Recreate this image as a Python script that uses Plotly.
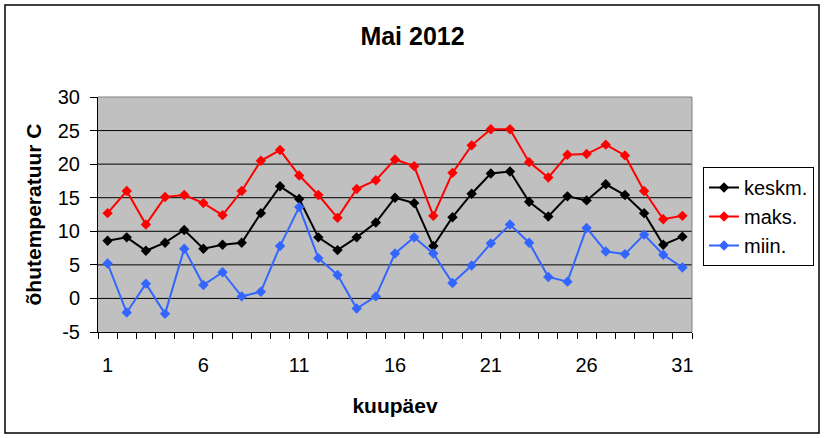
import plotly.graph_objects as go

# kuupäevad ja temperatuurid (loetud pildilt)
paevad = [1, 2, 3, 4, 5, 6, 7, 8, 9, 10, 11, 12, 13, 14, 15, 16,
          17, 18, 19, 20, 21, 22, 23, 24, 25, 26, 27, 28, 29, 30, 31]
keskm = [8.6, 9.1, 7.1, 8.3, 10.2, 7.4, 8.0, 8.3, 12.7, 16.7, 14.8, 9.1, 7.2, 9.1, 11.3, 15.0,
         14.2, 7.8, 12.1, 15.6, 18.6, 18.9, 14.4, 12.2, 15.2, 14.6, 17.0, 15.4, 12.7, 8.0, 9.2]
maks = [12.7, 16.0, 11.0, 15.1, 15.4, 14.2, 12.4, 16.0, 20.5, 22.1, 18.3, 15.4, 12.0, 16.3, 17.6, 20.7,
        19.7, 12.3, 18.7, 22.8, 25.2, 25.2, 20.3, 18.0, 21.4, 21.5, 22.9, 21.3, 16.0, 11.8, 12.3]
miin = [5.2, -2.1, 2.2, -2.3, 7.4, 2.0, 3.9, 0.3, 1.0, 7.8, 13.6, 6.0, 3.5, -1.5, 0.3, 6.7,
        9.1, 6.7, 2.3, 4.9, 8.2, 11.0, 8.3, 3.2, 2.5, 10.5, 7.0, 6.6, 9.5, 6.5, 4.6]

x_sildid = [1, 6, 11, 16, 21, 26, 31]
y_sildid = [-5, 0, 5, 10, 15, 20, 25, 30]

W, H = 825, 438
L, R, T, B = 98, 692, 97, 332  # joonise ala pikslites

def px_x(p):
    return (p - L) / (R - L)

def px_y(p):
    return (B - p) / (B - T)

FONT = "Liberation Sans, Arial, sans-serif"

fig = go.Figure()
for nimi, vals, col in [("keskm.", keskm, "black"),
                        ("maks.", maks, "#FF0000"),
                        ("miin.", miin, "#3366FF")]:
    fig.add_trace(go.Scatter(x=paevad, y=vals, name=nimi, mode="lines+markers",
                             line=dict(color=col, width=2),
                             marker=dict(symbol="diamond", size=8, color=col)))

# horisontaalsed abijooned
for v in y_sildid[1:-1]:
    fig.add_shape(type="line", xref="paper", yref="y", x0=0, x1=1, y0=v, y1=v,
                  line=dict(color="black", width=1), layer="below")
# hall raam üleval ja paremal
fig.add_shape(type="line", xref="paper", yref="paper", x0=0, x1=1, y0=1, y1=1,
              line=dict(color="#808080", width=1))
fig.add_shape(type="line", xref="paper", yref="paper", x0=1, x1=1, y0=0, y1=1,
              line=dict(color="#808080", width=1))
# välimine raam
fig.add_shape(type="rect", xref="paper", yref="paper",
              x0=px_x(5), x1=px_x(819), y0=px_y(433), y1=px_y(5),
              line=dict(color="black", width=1.5))

fig.update_layout(
    width=W, height=H,
    margin=dict(l=L, r=W - R, t=T, b=H - B, autoexpand=False),
    paper_bgcolor="white", plot_bgcolor="#C0C0C0",
    font=dict(family=FONT, size=20, color="black"),
    title=dict(text="<b>Mai 2012</b>", x=0.5, xref="container", xanchor="center",
               y=1 - 36.5 / H, yref="container", yanchor="middle",
               font=dict(size=25)),
    legend=dict(x=px_x(703), y=px_y(167), xanchor="left", yanchor="top",
                bordercolor="black", borderwidth=1, bgcolor="white",
                font=dict(size=20), itemwidth=30, tracegroupgap=0),
    showlegend=True,
)
# päevade vahel kriipsud (minor), sildid iga 5. päeva all
fig.update_xaxes(range=[0.5, 31.5], tickvals=x_sildid, ticks="outside", ticklen=6,
                 tickcolor="rgba(0,0,0,0)", showgrid=False, zeroline=False,
                 showline=True, linecolor="black", linewidth=1, automargin=False,
                 minor=dict(ticks="outside", ticklen=6, tickwidth=1, tickcolor="black",
                            tickmode="linear", tick0=0.5, dtick=1, showgrid=False),
                 ticklabelstandoff=9,
                 title=dict(text="<b>kuupäev</b>", standoff=23, font=dict(size=21)))
fig.update_yaxes(range=[-5, 30], tickvals=y_sildid, ticktext=[str(v) for v in y_sildid],
                 ticks="outside", ticklen=7, tickcolor="black",
                 showgrid=False, zeroline=False, showline=True, linecolor="black", linewidth=1,
                 ticklabelstandoff=6, automargin=False,
                 title=dict(text="<b>õhutemperatuur C</b>", standoff=10, font=dict(size=21)))

# lehe vaikimisi 8px veeris ära
fig.write_html("out.html", config={"displayModeBar": False},
               post_script="document.body.style.margin = '0';")
